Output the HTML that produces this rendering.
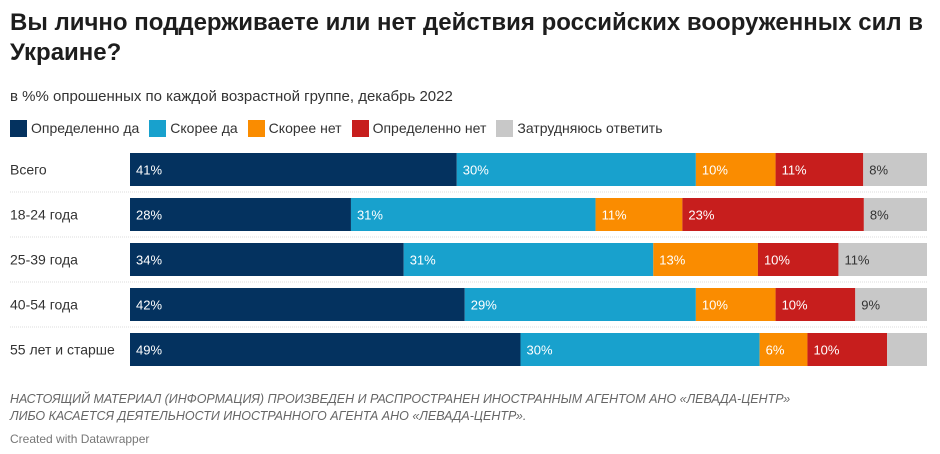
<!DOCTYPE html>
<html><head><meta charset="utf-8"><style>
body{margin:0;width:940px;height:454px;background:#fff;font-family:"Liberation Sans",sans-serif;overflow:hidden;position:relative}
.t{position:absolute;left:10px;top:8px;font-size:24px;font-weight:bold;color:#1d1d1d;line-height:30px;width:925px}
.s{position:absolute;left:10px;top:88px;font-size:15px;color:#333}
.lg{position:absolute;top:120px;left:10px;display:flex;font-size:14px;color:#333;line-height:17px}
.lg span{display:flex;align-items:center;margin-right:10px}
.lg i{display:inline-block;width:17px;height:17px;margin-right:4px}
.n{position:absolute;left:10px;top:391px;font-size:12.5px;font-style:italic;color:#666;line-height:17px}
.c{position:absolute;left:10px;top:432px;font-size:12px;color:#777}
</style></head><body>
<div class="t">Вы лично поддерживаете или нет действия российских вооруженных сил в Украине?</div>
<div class="s">в %% опрошенных по каждой возрастной группе, декабрь 2022</div>
<div class="lg">
<span><i style="background:#04325f"></i>Определенно да</span>
<span><i style="background:#18a1cd"></i>Скорее да</span>
<span><i style="background:#fa8c00"></i>Скорее нет</span>
<span><i style="background:#c71e1d"></i>Определенно нет</span>
<span><i style="background:#c8c8c8"></i>Затрудняюсь ответить</span>
</div>
<svg id="ch" width="940" height="454" style="position:absolute;left:0;top:0"></svg>
<div class="n">НАСТОЯЩИЙ МАТЕРИАЛ (ИНФОРМАЦИЯ) ПРОИЗВЕДЕН И РАСПРОСТРАНЕН ИНОСТРАННЫМ АГЕНТОМ АНО «ЛЕВАДА-ЦЕНТР»<br>ЛИБО КАСАЕТСЯ ДЕЯТЕЛЬНОСТИ ИНОСТРАННОГО АГЕНТА АНО «ЛЕВАДА-ЦЕНТР».</div>
<div class="c">Created with Datawrapper</div>
<script>
const categories=["Всего","18-24 года","25-39 года","40-54 года","55 лет и старше"];
const defYes=[41,28,34,42,49];
const ratherYes=[30,31,31,29,30];
const ratherNo=[10,11,13,10,6];
const defNo=[11,23,10,10,10];
const unsure=[8,8,11,9,5];
const showUnsure=[true,true,true,true,false];
const series=[defYes,ratherYes,ratherNo,defNo,unsure];
const colors=["#04325f","#18a1cd","#fa8c00","#c71e1d","#c8c8c8"];
const txt=["#fff","#fff","#fff","#fff","#333"];
const svg=document.getElementById('ch');const NS="http://www.w3.org/2000/svg";
const X0=130,W=797,Y0=153,STEP=45,BH=33;
function x(v,tot){return X0+v/tot*W}
function y(i){return Y0+i*STEP}
categories.forEach((c,i)=>{
 const tot=series.reduce((a,s)=>a+s[i],0);
 const lb=document.createElementNS(NS,'text');
 
 
 lb.setAttribute('x',10);lb.setAttribute('y',y(i)+BH/2+5);lb.setAttribute('font-size','14');lb.setAttribute('fill','#333');lb.textContent=c;svg.appendChild(lb);
 if(i>0){const l=document.createElementNS(NS,'line');
  
  
  l.setAttribute('x1',10);l.setAttribute('x2',927);l.setAttribute('y1',y(i)-6);l.setAttribute('y2',y(i)-6);l.setAttribute('stroke','#ddd');l.setAttribute('stroke-dasharray','1,1');svg.appendChild(l);}
 let acc=0;
 series.forEach((s,k)=>{
  const v=s[i];const x1=x(acc,tot),x2=x(acc+v,tot);acc+=v;
  const r=document.createElementNS(NS,'rect');
  
  
  r.setAttribute('x',x1);r.setAttribute('y',y(i));r.setAttribute('width',x2-x1);r.setAttribute('height',BH);r.setAttribute('fill',colors[k]);svg.appendChild(r);
  if(k<4||showUnsure[i]){const t=document.createElementNS(NS,'text');
   
   
   t.setAttribute('x',x1+6);t.setAttribute('y',y(i)+BH/2+5);t.setAttribute('font-size','13');t.setAttribute('fill',txt[k]);t.textContent=v+'%';svg.appendChild(t);}
 });
});
</script>
</body></html>
